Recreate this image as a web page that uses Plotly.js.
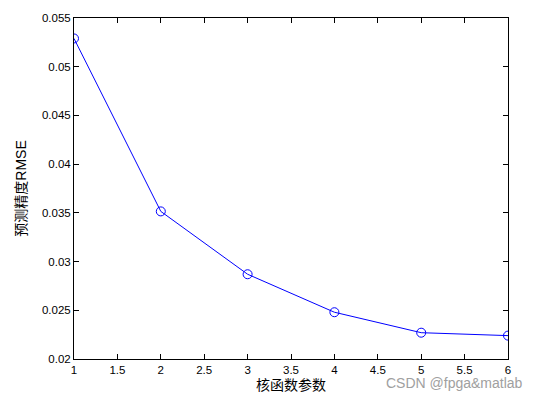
<!DOCTYPE html>
<html>
<head>
<meta charset="utf-8">
<script src="https://cdn.plot.ly/plotly-3.0.1.min.js"></script>
<style>html,body{margin:0;padding:0;background:#fff;}#chart{width:543px;height:401px;}</style>
</head>
<body>
<div id="chart"></div>
<script>
const kernelParams = [1, 2, 3, 4, 5, 6];
const rmseValues = [0.0529, 0.03515, 0.0287, 0.0248, 0.0227, 0.0224];
const xTickValues = [1, 1.5, 2, 2.5, 3, 3.5, 4, 4.5, 5, 5.5, 6];
const yTickValues = [0.02, 0.025, 0.03, 0.035, 0.04, 0.045, 0.05, 0.055];
const xTitle = '核函数参数';
const yTitle = '预测精度RMSE';
const watermark = 'CSDN @fpga&matlab';

const fontFam = 'Liberation Sans, Arial, Noto Sans CJK SC, sans-serif';

const trace = {
  x: kernelParams,
  y: rmseValues,
  type: 'scatter',
  mode: 'lines+markers',
  line: {color: '#0000ff', width: 1},
  marker: {symbol: 'circle-open', size: 9, color: '#0000ff', line: {width: 1, color: '#0000ff'}},
  hoverinfo: 'none'
};

const axisCommon = {
  showgrid: false,
  zeroline: false,
  showline: true,
  linecolor: '#000',
  linewidth: 1,
  mirror: 'ticks',
  ticks: 'inside',
  ticklen: 5,
  tickwidth: 1,
  tickcolor: '#000',
  tickfont: {family: fontFam, size: 11.5, color: '#000'}
};

const layout = {
  width: 543,
  height: 401,
  margin: {l: 74, r: 35, t: 18, b: 42},
  paper_bgcolor: '#fff',
  plot_bgcolor: '#fff',
  showlegend: false,
  xaxis: Object.assign({}, axisCommon, {
    range: [1, 6],
    tickvals: xTickValues,
    ticktext: xTickValues.map(String),
    title: {text: xTitle, font: {family: fontFam, size: 14, color: '#000'}, standoff: 5}
  }),
  yaxis: Object.assign({}, axisCommon, {
    range: [0.02, 0.055],
    tickvals: yTickValues,
    ticktext: yTickValues.map(v => String(+v.toFixed(3))),
    title: {text: yTitle, font: {family: fontFam, size: 14, color: '#000'}, standoff: 12}
  }),
  annotations: [{
    text: watermark,
    xref: 'paper', yref: 'paper',
    x: 1.04, y: -0.07,
    xanchor: 'right', yanchor: 'middle',
    showarrow: false,
    font: {family: fontFam, size: 14, color: '#a0a0a0'}
  }]
};

Plotly.newPlot('chart', [trace], layout, {displayModeBar: false, staticPlot: true});
</script>
</body>
</html>
